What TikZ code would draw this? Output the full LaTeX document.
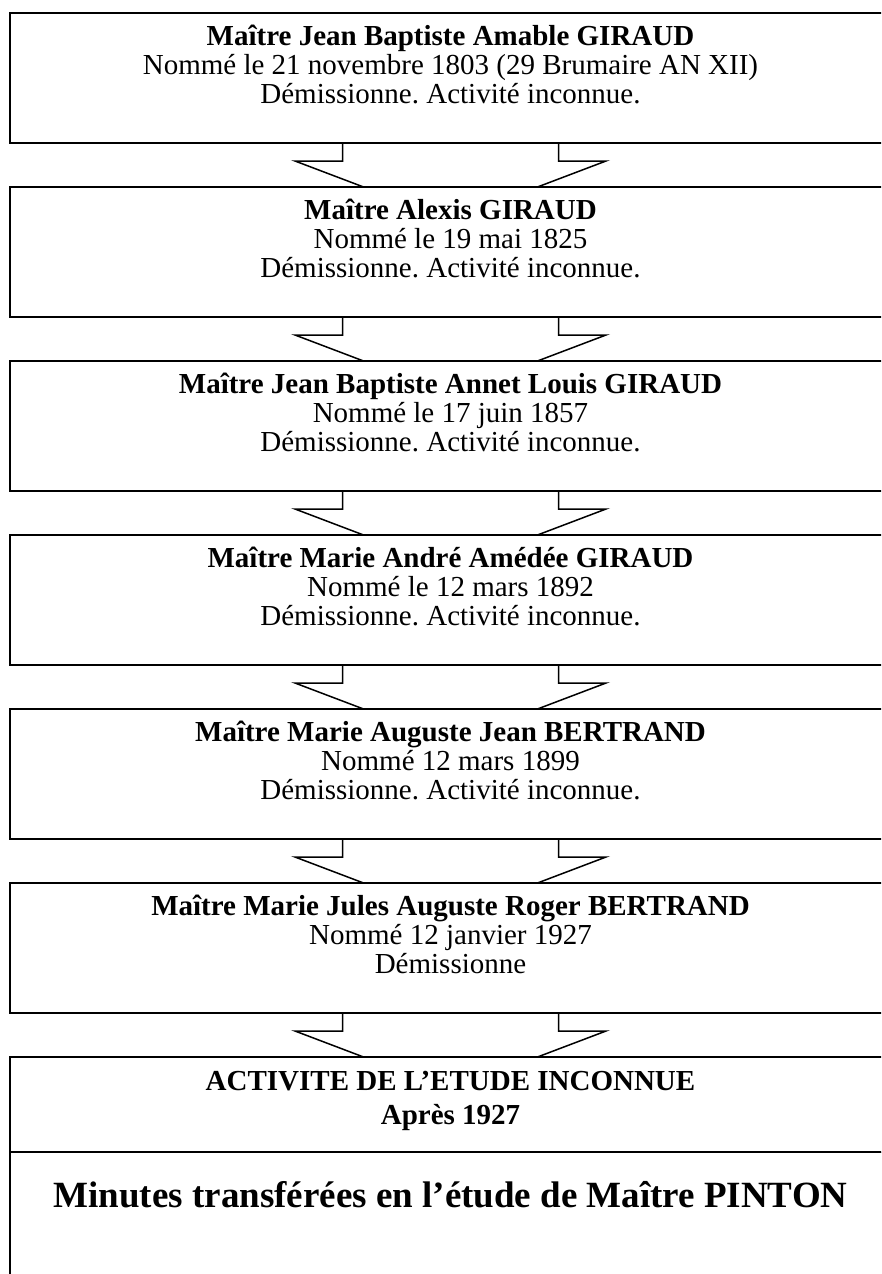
\documentclass[tikz,border=0pt]{standalone}
\usepackage{fontspec}
\setmainfont{Liberation Serif}
\frenchspacing
\usetikzlibrary{positioning, calc, backgrounds}

\tikzset{
  etude/.style={rectangle, draw, line width=2pt, fill=white,
                minimum width=881pt, minimum height=130pt, inner sep=0pt},
  notaire/.style={align=center, inner sep=0pt, anchor=north,
                  font=\fontsize{29}{29}\selectfont},
  fleche/.style={draw, line width=1.5pt, fill=white, line join=miter},
}

% block arrow hanging under a box, its point hidden by the next box
\newcommand{\succession}[1]{%
  \draw[fleche] ($(#1.south)+(-108,-4)$) -- ++(0,21) -- ++(-47.5,0)
    -- ($(#1.south)+(0,76)$) -- ($(#1.south)+(155.5,17)$)
    -- ++(-47.5,0) -- ++(0,-21) -- cycle;}

\begin{document}
\begin{tikzpicture}[x=1pt, y=-1pt]

  \useasboundingbox (0,0) rectangle (881,1274);
  \clip (0,0) rectangle (881,1274);

  \node[etude, anchor=north west] (amable) at (9,12) {};
  \node[etude, below=42pt of amable] (alexis) {};
  \node[etude, below=42pt of alexis] (annet) {};
  \node[etude, below=42pt of annet] (amedee) {};
  \node[etude, below=42pt of amedee] (auguste) {};
  \node[etude, below=42pt of auguste] (roger) {};
  \node[etude, minimum height=95pt, below=42pt of roger] (inconnue) {};
  \node[etude, line width=1.5pt, minimum height=160pt,
        below=-1.5pt of inconnue] (pinton) {};

  \begin{scope}[on background layer]
    \succession{amable}
    \succession{alexis}
    \succession{annet}
    \succession{amedee}
    \succession{auguste}
    \succession{roger}
  \end{scope}

  \node[notaire] (amable-txt) at ($(amable.north)+(0,13)$)
    {\textbf{Maître Jean Baptiste Amable GIRAUD}\\
     Nommé le 21 novembre 1803 (29 Brumaire AN XII)\\
     Démissionne. Activité inconnue.};
  \node[notaire] (alexis-txt) at ($(alexis.north)+(0,13)$)
    {\textbf{Maître Alexis GIRAUD}\\
     Nommé le 19 mai 1825\\
     Démissionne. Activité inconnue.};
  \node[notaire] (annet-txt) at ($(annet.north)+(0,13)$)
    {\textbf{Maître Jean Baptiste Annet Louis GIRAUD}\\
     Nommé le 17 juin 1857\\
     Démissionne. Activité inconnue.};
  \node[notaire] (amedee-txt) at ($(amedee.north)+(0,13)$)
    {\textbf{Maître Marie André Amédée GIRAUD}\\
     Nommé le 12 mars 1892\\
     Démissionne. Activité inconnue.};
  \node[notaire] (auguste-txt) at ($(auguste.north)+(0,13)$)
    {\textbf{Maître Marie Auguste Jean BERTRAND}\\
     Nommé 12 mars 1899\\
     Démissionne. Activité inconnue.};
  \node[notaire] (roger-txt) at ($(roger.north)+(0,13)$)
    {\textbf{Maître Marie Jules Auguste Roger BERTRAND}\\
     Nommé 12 janvier 1927\\
     Démissionne};
  \node[notaire, font=\fontsize{29}{34}\selectfont\bfseries] (inconnue-txt)
    at ($(inconnue.north)+(0,15)$)
    {ACTIVITE DE L’ETUDE INCONNUE\\Après 1927};
  \node[notaire, font=\fontsize{37}{40}\selectfont\bfseries] (pinton-txt)
    at ($(pinton.north)+(0,30)$)
    {Minutes transférées en l’étude de Maître PINTON};

\end{tikzpicture}
\end{document}
